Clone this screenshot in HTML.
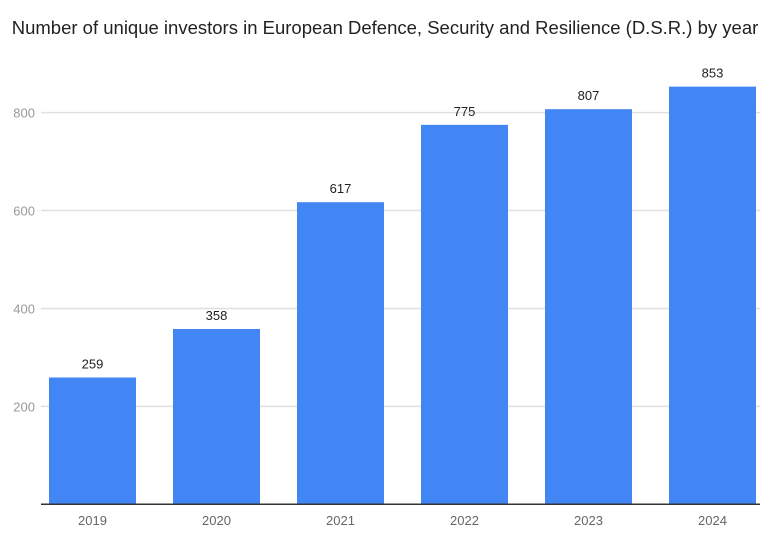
<!DOCTYPE html>
<html><head><meta charset="utf-8"><style>
body{margin:0;background:#fff;}
svg{display:block;font-family:"Liberation Sans",sans-serif;}
</style></head><body>
<svg id="c" width="770" height="535">
<text x="385" y="34" text-anchor="middle" font-size="18.5" fill="#222">Number of unique investors in European Defence, Security and Resilience (D.S.R.) by year</text>
</svg>
<script>
const categories=["2019","2020","2021","2022","2023","2024"];
const values=[259,358,617,775,807,853];
const yTicks=[200,400,600,800];
const NS="http://www.w3.org/2000/svg";
const svg=document.getElementById('c');
const y0=504.3,k=0.4896;
const y=v=>y0-v*k;
const x=i=>49+i*124;
const bw=87;
function mk(t,a){const e=document.createElementNS(NS,t);for(const n in a)e.setAttribute(n,a[n]);svg.appendChild(e);return e;}
yTicks.forEach(t=>{
 const g=mk('line',{x1:41,x2:760,y1:y(t),y2:y(t),stroke:'#e0e0e0','stroke-width':1.5});
 
 
 const l=mk('text',{x:35,y:y(t)+5,'text-anchor':'end','font-size':13,fill:'#999'});
 l.textContent=t;
 
 
});
categories.forEach((c,i)=>{
 const r=mk('rect',{x:x(i),y:y(values[i]),width:bw,height:values[i]*k,fill:'#4285f4'});
 
 
 const v=mk('text',{x:x(i)+bw/2,y:y(values[i])-9,'text-anchor':'middle','font-size':13,fill:'#222'});
 v.textContent=values[i];
 
 
 const l=mk('text',{x:x(i)+bw/2,y:525,'text-anchor':'middle','font-size':13,fill:'#666'});
 l.textContent=c;
 
 
});
const ax=mk('line',{x1:41,x2:760,y1:y0,y2:y0,stroke:'#333','stroke-width':1.5});


</script>
</body></html>
